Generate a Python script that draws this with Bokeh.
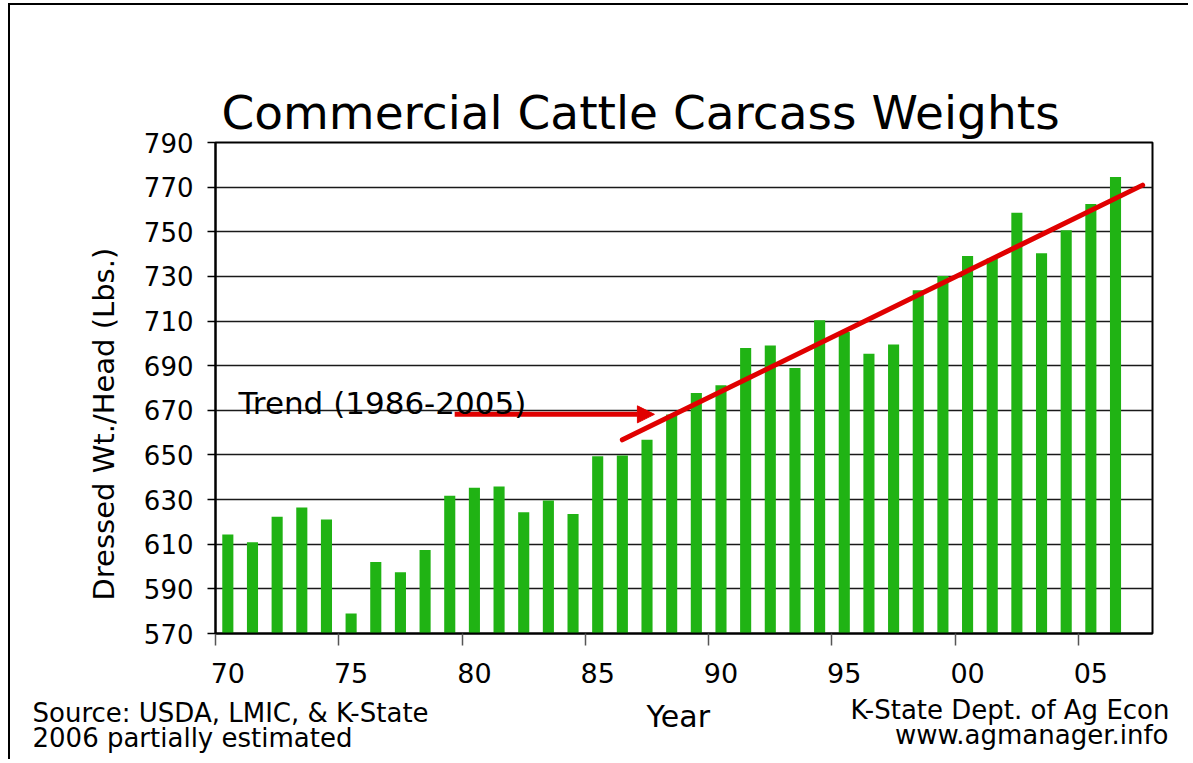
import math
from bokeh.plotting import figure
from bokeh.models import (Range1d, FixedTicker, Label, Arrow, NormalHead, Title)
from bokeh.embed import file_html
from bokeh.resources import INLINE

# ---- data ----
years = list(range(1970, 2007))
weights = [614.4, 610.9, 622.3, 626.5, 621.1, 579.0, 602.0, 597.4, 607.4, 631.7,
           635.3, 635.9, 624.3, 629.6, 623.5, 649.4, 649.8, 656.8, 668.1, 677.8,
           681.2, 697.9, 699.0, 689.0, 710.4, 705.1, 695.4, 699.5, 723.8, 730.2,
           739.2, 738.0, 758.5, 740.4, 750.7, 762.5, 774.5]
tick_years = [1970, 1975, 1980, 1985, 1990, 1995, 2000, 2005]
tick_labels = ["70", "75", "80", "85", "90", "95", "00", "05"]
y_ticks = [570, 590, 610, 630, 650, 670, 690, 710, 730, 750, 770, 790]
trend_x = [1986.0, 2007.1]
trend_y = [656.8, 770.9]
arrow_x = [1979.2, 1987.3]
arrow_y = 668.2
trend_text_pos = (1970.43, 673.1)

FONT = "DejaVu Sans"
GREEN = "#20B314"
RED = "#E00000"

p = figure(width=1180, height=756, output_backend="svg", toolbar_location=None,
           x_range=Range1d(1969.5, 2007.5), y_range=Range1d(570, 790),
           min_border_left=205, min_border_right=38, min_border_top=137,
           min_border_bottom=128)
p.margin = (3, 0, 0, 8)
p.styles = {"border-top": "2px solid black", "border-left": "2px solid black"}

# title
p.title.text = "Commercial Cattle Carcass Weights"
p.title.text_font = FONT
p.title.text_font_size = "47px"
p.title.text_font_style = "normal"
p.title.text_color = "black"
p.title.align = "left"
p.title.offset = 6
p.title.standoff = 6

# frame
p.outline_line_color = "black"
p.outline_line_width = 2
p.background_fill_color = "white"
p.border_fill_color = "white"
p.xgrid.grid_line_color = None
p.ygrid.grid_line_color = "#1a1a1a"
p.ygrid.grid_line_width = 1.3
p.ygrid.ticker = FixedTicker(ticks=y_ticks)

# x axis
xa = p.xaxis[0]
xa.ticker = FixedTicker(ticks=tick_years, minor_ticks=[t - 0.5 for t in tick_years])
xa.major_label_overrides = {t: l for t, l in zip(tick_years, tick_labels)}
xa.major_tick_out = 0
xa.major_tick_in = 0
xa.minor_tick_out = 12
xa.minor_tick_in = 0
xa.minor_tick_line_color = "#555555"
xa.minor_tick_line_width = 1.5
xa.axis_line_color = "black"
xa.axis_line_width = 2
xa.major_label_text_font = FONT
xa.major_label_text_font_size = "27px"
xa.major_label_text_color = "black"
xa.major_label_standoff = 17

# y axis
ya = p.yaxis[0]
ya.ticker = FixedTicker(ticks=y_ticks)
ya.major_tick_out = 8
ya.major_tick_in = 0
ya.minor_tick_line_color = None
ya.major_tick_line_color = "black"
ya.major_tick_line_width = 1.5
ya.axis_line_color = "black"
ya.axis_line_width = 2
ya.major_label_text_font = FONT
ya.major_label_text_font_size = "26px"
ya.major_label_text_color = "black"
ya.major_label_standoff = 14

# bars
p.vbar(x=years, top=weights, bottom=570, width=0.45, fill_color=GREEN,
       line_color=None)

# trend line
p.line(trend_x, trend_y, line_color=RED, line_width=5, line_cap="round")

# arrow
p.add_layout(Arrow(x_start=arrow_x[0], y_start=arrow_y, x_end=arrow_x[1], y_end=arrow_y,
                   line_color=RED, line_width=5,
                   end=NormalHead(size=17, fill_color=RED, line_color=RED, line_width=1)))

p.add_layout(Label(x=trend_text_pos[0], y=trend_text_pos[1], text="Trend (1986-2005)",
                   text_font=FONT, text_font_size="31px", text_color="black",
                   text_baseline="alphabetic", text_align="left"))


def side_title(text, align, offset, size, standoff, valign="middle"):
    return Title(text=text, align=align, offset=offset, standoff=standoff,
                 vertical_align=valign, text_font=FONT,
                 text_font_size=f"{size}px", text_font_style="normal",
                 text_color="black")


# y axis title (left panel)
p.add_layout(side_title("Dressed Wt./Head (Lbs.)", "left", 33, 29, 40, "bottom"), "left")

# bottom rows: Year + footer notes
p.add_layout(side_title(" ", "left", 0, 10, 10), "below")
p.add_layout(side_title("K-State Dept. of Ag Econ", "right", -17, 26, -29), "below")
p.add_layout(side_title("Source:  USDA, LMIC, & K-State", "left", -183, 26, -29), "below")
p.add_layout(side_title("Year", "left", 431, 30, -34), "below")
p.add_layout(side_title(" ", "left", 0, 10, 3), "below")
p.add_layout(side_title("www.agmanager.info", "right", -16, 26, -29), "below")
p.add_layout(side_title("2006 partially estimated", "left", -183, 26, -29), "below")

open("out.html", "w").write(file_html(p, INLINE))
